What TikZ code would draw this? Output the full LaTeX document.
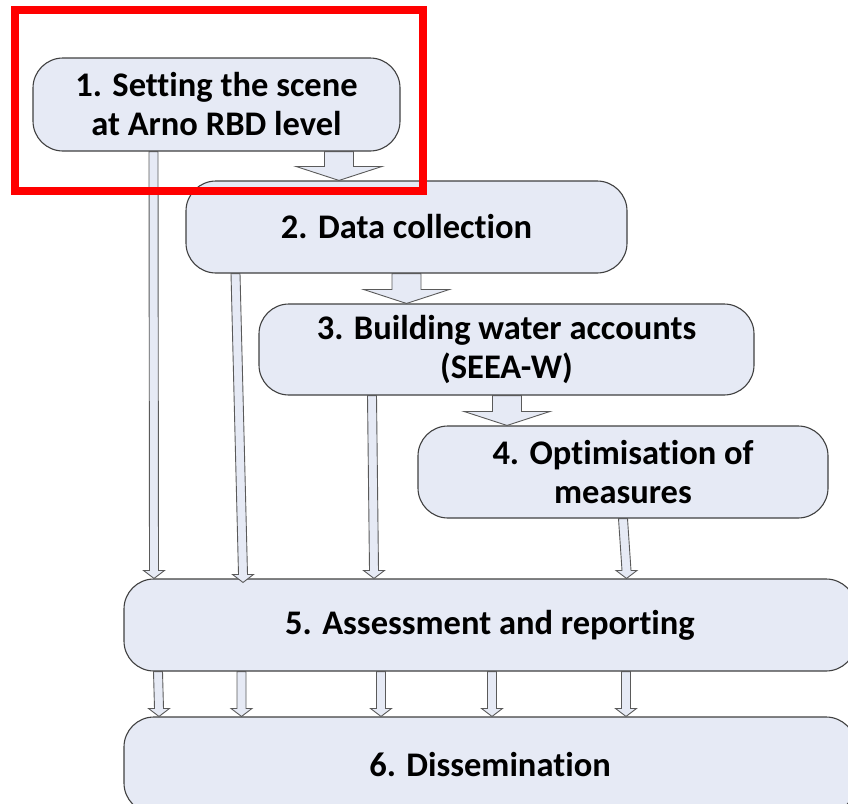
\documentclass[tikz,border=0pt]{standalone}
\usepackage{fontspec}
\setmainfont{Carlito}[Ligatures=NoCommon]
\usetikzlibrary{calc}
\definecolor{boxfill}{RGB}{230,234,245}
\definecolor{boxline}{RGB}{64,64,64}
\definecolor{arrline}{RGB}{90,90,90}
\definecolor{hlred}{RGB}{255,0,0}
\tikzset{
  stepnode/.style={draw=boxline, fill=boxfill, line width=1.1pt,
    rounded corners=30pt, inner sep=0pt, align=center,
    font=\fontsize{34.5}{39}\selectfont\bfseries},
  blockarr/.style n args={3}{draw=arrline, fill=boxfill, line width=0.9pt,
    to path={let \p1=(\tikztostart), \p2=(\tikztotarget) in
      (\x1-#1,\y1) -- (\x2-#1,\y2+#3) -- (\x2-#2,\y2+#3) -- (\x2,\y2)
      -- (\x2+#2,\y2+#3) -- (\x2+#1,\y2+#3) -- (\x1+#1,\y1) -- cycle}},
  bigarr/.style={blockarr={14.5pt}{43pt}{14pt}},
  thinarr/.style={blockarr={4.5pt}{10.5pt}{8pt}},
  hlbox/.style={draw=hlred, line width=8pt},
}
\begin{document}
\begin{tikzpicture}[x=1pt,y=-1pt]
\useasboundingbox (0,0) rectangle (848,803);
\node[stepnode, minimum width=367pt, minimum height=93pt] (b1) at (216.5,104.5) {1. Setting the scene\\at Arno RBD level};
\node[stepnode, minimum width=441pt, minimum height=92pt] (b2) at (406.5,227) {2. Data collection};
\node[stepnode, minimum width=495pt, minimum height=91pt] (b3) at (506.5,349.5) {3. Building water accounts\\(SEEA-W)};
\node[stepnode, minimum width=410pt, minimum height=92pt] (b4) at (623,472) {4. Optimisation of\\measures};
\node[stepnode, minimum width=732pt, minimum height=92pt] (b5) at (490,625) {5. Assessment and reporting};
\node[stepnode, minimum width=732pt, minimum height=96pt] (b6) at (490,765) {6. Dissemination};
% block arrows
\draw[bigarr] ([xshift=122.5pt]b1.south) to ([xshift=-67.5pt]b2.north);
\draw[bigarr] (b2.south) to ([xshift=-100pt]b3.north);
\draw[bigarr] ([xshift=0.5pt]b3.south) to ([xshift=-116pt]b4.north);
% thin arrows into 5
\draw[thinarr] ([xshift=-63pt]b1.south) to ([xshift=-336pt]b5.north);
\draw[thinarr] ([xshift=-171pt]b2.south) to ([xshift=-247pt,yshift=-4pt]b5.north);
\draw[thinarr] ([xshift=-134.5pt]b3.south) to ([xshift=-116pt]b5.north);
\draw[thinarr] (b4.south) to ([xshift=136.5pt]b5.north);
% thin arrows into 6
\draw[thinarr] ([xshift=-332pt]b5.south) to ([xshift=-331pt]b6.north);
\draw[thinarr] ([xshift=-248.5pt]b5.south) to ([xshift=-248.5pt]b6.north);
\draw[thinarr] ([xshift=-109pt]b5.south) to ([xshift=-109pt]b6.north);
\draw[thinarr] ([xshift=2pt]b5.south) to ([xshift=2pt]b6.north);
\draw[thinarr] ([xshift=136pt]b5.south) to ([xshift=136pt]b6.north);
% highlight
\draw[hlbox] (15,10) rectangle (423,191);
\end{tikzpicture}
\end{document}
